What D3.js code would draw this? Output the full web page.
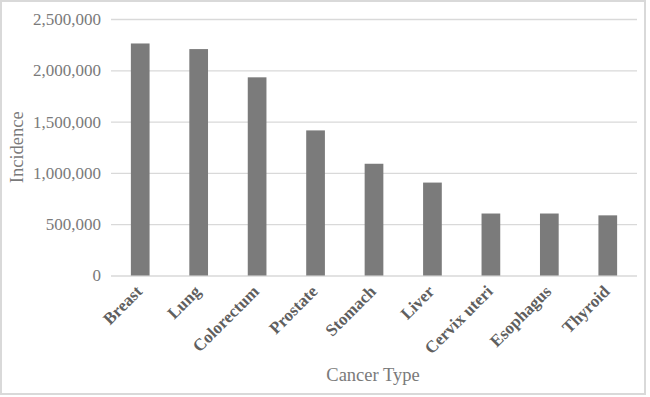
<!DOCTYPE html>
<html><head><meta charset="utf-8">
<script src="https://cdn.jsdelivr.net/npm/d3@7"></script>
<style>body{margin:0;background:#fff}svg{display:block}</style>
</head><body><svg id="c" width="650" height="397"></svg>
<script>
const categories = ["Breast","Lung","Colorectum","Prostate","Stomach","Liver","Cervix uteri","Esophagus","Thyroid"];
const incidence = [2261419,2206771,1931590,1414259,1089103,905677,604127,604100,586202];
const yTicks = [0,500000,1000000,1500000,2000000,2500000];

const svg = d3.select("#c");
svg.append("rect").attr("x",1).attr("y",1).attr("width",644).attr("height",393)
  .attr("fill","#fff").attr("stroke","#d9d9d9").attr("stroke-width",2);

const m = {left:111, right:637, top:19, bottom:275.5};
const x = d3.scaleBand().domain(categories).range([m.left,m.right]).paddingInner(0.68).paddingOuter(0.34);
const y = d3.scaleLinear().domain([0,2500000]).range([m.bottom,m.top]);
const font = "Liberation Serif, Times New Roman, serif";

const gy = svg.append("g").attr("transform",`translate(${m.left},0)`)
  .call(d3.axisLeft(y).tickValues(yTicks).tickSize(-(m.right-m.left)).tickPadding(10).tickFormat(d3.format(",")))
  .attr("font-family",font).attr("font-size",17);
gy.select(".domain").remove();
gy.selectAll(".tick line").attr("stroke","#d9d9d9").attr("stroke-width",1.3);
gy.selectAll(".tick text").attr("fill","#7a7a7a");

svg.append("g").selectAll("rect").data(incidence).join("rect")
  .attr("x",(d,i)=>x(categories[i])).attr("width",x.bandwidth())
  .attr("y",d=>y(d)).attr("height",d=>y(0)-y(d)).attr("fill","#7b7b7b");

const gx = svg.append("g").attr("transform",`translate(0,${m.bottom})`)
  .call(d3.axisBottom(x).tickSize(0).tickPadding(0))
  .attr("font-family",font).attr("font-size",17).attr("font-weight","bold");
gx.select(".domain").remove();
gx.selectAll(".tick text")
  .attr("text-anchor","end").attr("fill","#5f5f5f")
  .attr("dx",0).attr("dy",0)
  .attr("transform","translate(3,17) rotate(-45)");

svg.append("text").attr("x",373).attr("y",381).attr("text-anchor","middle")
  .attr("fill","#7a7a7a").attr("font-family",font).attr("font-size",18.5).text("Cancer Type");
svg.append("text").attr("transform",`translate(23,${(m.top+m.bottom)/2}) rotate(-90)`).attr("text-anchor","middle")
  .attr("fill","#7a7a7a").attr("font-family",font).attr("font-size",18.5).text("Incidence");
</script></body></html>
